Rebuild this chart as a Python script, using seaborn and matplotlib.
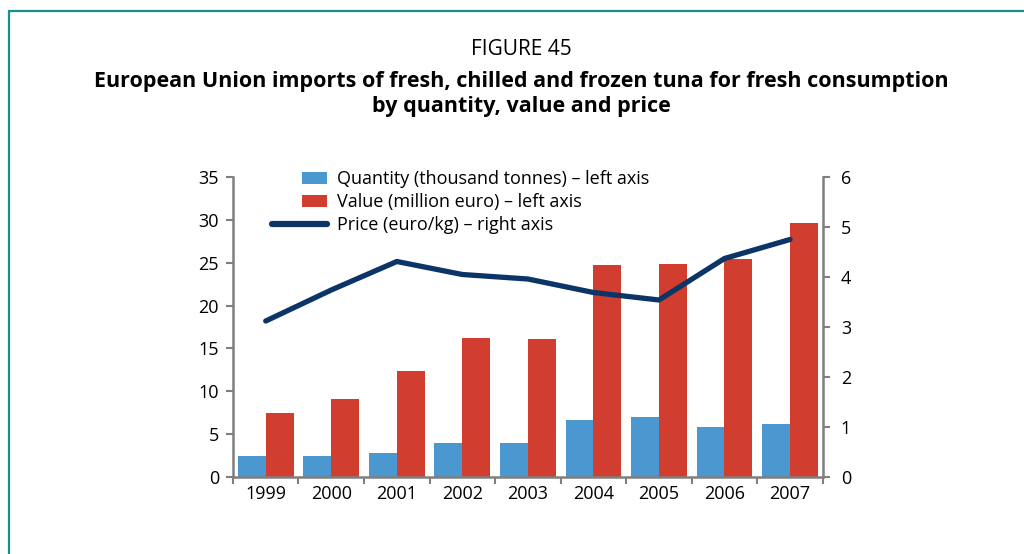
import numpy as np
import pandas as pd
import matplotlib
matplotlib.use("Agg")
import matplotlib.pyplot as plt
from matplotlib.patches import Rectangle, Patch
from matplotlib.lines import Line2D
from matplotlib.legend_handler import HandlerPatch
import seaborn as sns

# Data
years = ["1999", "2000", "2001", "2002", "2003", "2004", "2005", "2006", "2007"]
quantity = [2.4, 2.4, 2.85, 3.95, 4.0, 6.65, 7.0, 5.8, 6.15]      # thousand tonnes
value = [7.5, 9.05, 12.4, 16.25, 16.05, 24.7, 24.9, 25.4, 29.6]    # million euro
price = [3.12, 3.74, 4.31, 4.05, 3.96, 3.69, 3.54, 4.37, 4.75]     # euro/kg

series_names = ["Quantity (thousand tonnes) \u2013 left axis",
                "Value (million euro) \u2013 left axis"]
price_name = "Price (euro/kg) \u2013 right axis"

blue = "#4b97cf"
red = "#d13d2e"
navy = "#0b3467"
spine_gray = "#7f7f7f"
label_size = 13

sns.set_theme(style="white")
plt.rcParams["font.family"] = ["Open Sans", "DejaVu Sans"]
plt.rcParams["text.color"] = "black"

df = pd.DataFrame({
    "year": years * 2,
    "amount": quantity + value,
    "series": [series_names[0]] * len(years) + [series_names[1]] * len(years),
})

fig = plt.figure(figsize=(10.24, 5.54), dpi=100)
ax = fig.add_axes([0.2275, 0.139, 0.576, 0.5415])

sns.barplot(data=df, x="year", y="amount", hue="series", order=years,
            palette=[blue, red], saturation=1, width=0.85, gap=0,
            linewidth=0, ax=ax, legend=False)

ax2 = ax.twinx()
sns.lineplot(x=np.arange(len(years)), y=price, color=navy, linewidth=3.8,
             ax=ax2, legend=False)

ax.set_xlim(-0.5, len(years) - 0.5)
ax.set_ylim(0, 35)
ax2.set_ylim(0, 6)
ax.set_yticks(np.arange(0, 36, 5))
ax2.set_yticks(np.arange(0, 7, 1))
ax.set_xlabel("")
ax.set_ylabel("")
ax2.set_ylabel("")

# Category boundary ticks on the x axis
ax.set_xticks(np.arange(len(years)))
ax.set_xticklabels(years)
ax.set_xticks(np.arange(-0.5, len(years)), minor=True)
ax.tick_params(axis="x", which="major", length=0, pad=6, labelsize=label_size,
               colors="black")
ax.tick_params(axis="x", which="minor", bottom=True, length=5, width=1.5,
               color=spine_gray)
ax.tick_params(axis="y", left=True, length=5, width=1.5, color=spine_gray,
               labelsize=label_size, labelcolor="black", pad=5)
ax2.tick_params(axis="y", right=True, length=5, width=1.5, color=spine_gray,
                labelsize=label_size, labelcolor="black", pad=8)

for a in (ax, ax2):
    a.grid(False)
    a.spines["top"].set_visible(False)
    for s in ("left", "right", "bottom"):
        a.spines[s].set_color(spine_gray)
        a.spines[s].set_linewidth(1.8)
ax2.spines["left"].set_visible(False)
ax2.spines["bottom"].set_visible(False)
ax.spines["right"].set_visible(False)
ax.patch.set_visible(False)


class NarrowPatchHandler(HandlerPatch):
    """Legend swatch that occupies only the right part of the handle box."""

    def create_artists(self, legend, orig_handle, xdescent, ydescent,
                       width, height, fontsize, trans):
        w = width * 0.46
        h = height * 0.95
        p = Rectangle((-xdescent + width - w, -ydescent + (height - h) / 2),
                      w, h, facecolor=orig_handle.get_facecolor(),
                      edgecolor="none", transform=trans)
        return [p]


handles = [Patch(facecolor=blue), Patch(facecolor=red),
           Line2D([], [], color=navy, linewidth=4.5, solid_capstyle="round")]
labels = series_names + [price_name]
leg = ax.legend(handles, labels, loc="upper left",
                bbox_to_anchor=(0.066, 1.022), frameon=False,
                borderpad=0, borderaxespad=0,
                fontsize=label_size, handlelength=3.05, handletextpad=0.55,
                labelspacing=0.27, labelcolor="black",
                handler_map={Patch: NarrowPatchHandler()})

# Titles
fig.text(0.509, 0.911, "FIGURE 45", ha="center", va="center", fontsize=15)
fig.text(0.509, 0.83,
         "European Union imports of fresh, chilled and frozen tuna for fresh consumption\nby quantity, value and price",
         ha="center", va="center", fontsize=15.5, fontweight="bold",
         linespacing=1.27)

# Teal frame
fig.patches.append(Rectangle((9 / 1024, -0.05), 1.1, 1 - 11 / 554 + 0.05,
                             transform=fig.transFigure, fill=False,
                             edgecolor="#1b8f90", linewidth=1.6))

fig.savefig("out.png", dpi=100)
